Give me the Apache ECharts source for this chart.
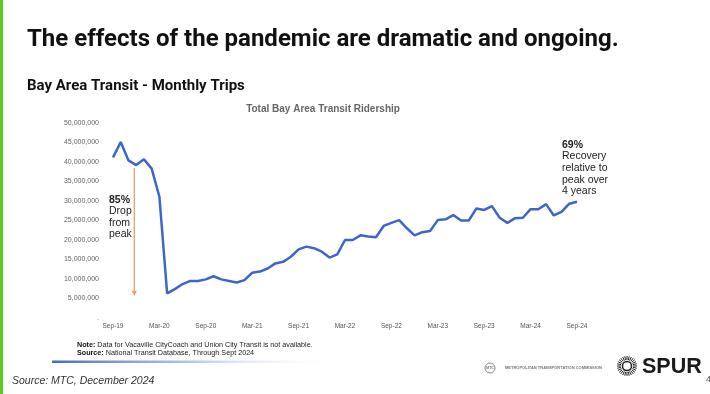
<!DOCTYPE html>
<html>
<head>
<meta charset="utf-8">
<script src="https://cdn.jsdelivr.net/npm/echarts@6/dist/echarts.min.js"></script>
<style>
html,body{margin:0;padding:0;background:#fff;}
#chart{width:710px;height:394px;}
</style>
</head>
<body>
<div id="chart"></div>
<script>
const months = [
  'Sep-19','Oct-19','Nov-19','Dec-19','Jan-20','Feb-20','Mar-20','Apr-20','May-20','Jun-20','Jul-20','Aug-20',
  'Sep-20','Oct-20','Nov-20','Dec-20','Jan-21','Feb-21','Mar-21','Apr-21','May-21','Jun-21','Jul-21','Aug-21',
  'Sep-21','Oct-21','Nov-21','Dec-21','Jan-22','Feb-22','Mar-22','Apr-22','May-22','Jun-22','Jul-22','Aug-22',
  'Sep-22','Oct-22','Nov-22','Dec-22','Jan-23','Feb-23','Mar-23','Apr-23','May-23','Jun-23','Jul-23','Aug-23',
  'Sep-23','Oct-23','Nov-23','Dec-23','Jan-24','Feb-24','Mar-24','Apr-24','May-24','Jun-24','Jul-24','Aug-24',
  'Sep-24'
];
const monthlyTrips = [
  41200000, 45100000, 40400000, 39200000, 40700000, 38300000, 31100000, 6300000, 7400000, 8700000, 9500000, 9500000,
  9900000, 10700000, 9900000, 9500000, 9100000, 9700000, 11600000, 11900000, 12700000, 14000000, 14400000, 15700000,
  17600000, 18300000, 17900000, 17000000, 15500000, 16300000, 20000000, 20000000, 21200000, 20900000, 20700000, 23600000,
  24400000, 25100000, 23000000, 21200000, 22000000, 22300000, 25100000, 25300000, 26400000, 25000000, 25000000, 28100000,
  27700000, 28700000, 25700000, 24400000, 25600000, 25700000, 27900000, 27900000, 29200000, 26300000, 27200000, 29300000,
  29800000
];
const yTicks = { min: 0, max: 50000000, step: 5000000 };
const headline = 'The effects of the pandemic are dramatic and ongoing.';
const subHeadline = 'Bay Area Transit - Monthly Trips';
const chartTitle = 'Total Bay Area Transit Ridership';
const dropNote = ['85%', 'Drop', 'from', 'peak'];
const recoveryNote = ['69%', 'Recovery', 'relative to', 'peak over', '4 years'];
const noteLines = [
  ['Note:', ' Data for Vacaville CityCoach and Union City Transit is not available.'],
  ['Source:', ' National Transit Database, Through Sept 2024']
];
const sourceLine = 'Source: MTC, December 2024';

const chart = echarts.init(document.getElementById('chart'), null, { renderer: 'canvas' });

function fmt(v) {
  if (v === 0) return '.';
  return String(v).replace(/\B(?=(\d{3})+(?!\d))/g, ',');
}

const graphics = [];
// green left bar
graphics.push({ type: 'rect', shape: { x: 0, y: 0, width: 3, height: 394 }, style: { fill: '#5ccf1c' }, silent: true });
// headline
graphics.push({ type: 'text', x: 27, y: 40, style: { text: headline, font: 'bold 24px Roboto', fill: '#111', textVerticalAlign: 'middle' } });
graphics.push({ type: 'text', x: 27, y: 86, style: { text: subHeadline, font: 'bold 15px Roboto', fill: '#111', textVerticalAlign: 'middle' } });
// chart title
graphics.push({ type: 'text', x: 323, y: 109, style: { text: chartTitle, font: 'bold 10px "Liberation Sans", Arial', fill: '#666', textAlign: 'center', textVerticalAlign: 'middle' } });
// drop arrow
graphics.push({ type: 'line', shape: { x1: 134.3, y1: 168, x2: 134.3, y2: 292 }, style: { stroke: '#f39a6e', lineWidth: 1.3 } });
graphics.push({ type: 'polygon', shape: { points: [[131.8, 291], [136.8, 291], [134.3, 296]] }, style: { fill: '#f39a6e' } });
dropNote.forEach((t, i) => {
  graphics.push({ type: 'text', x: 109, y: 200 + i * 11.5, style: { text: t, font: (i === 0 ? 'bold ' : '') + '10.5px "Liberation Sans", Arial', fill: '#222', textVerticalAlign: 'middle' } });
});
recoveryNote.forEach((t, i) => {
  graphics.push({ type: 'text', x: 562, y: 145 + i * 11.6, style: { text: t, font: (i === 0 ? 'bold ' : '') + '10.5px "Liberation Sans", Arial', fill: '#222', textVerticalAlign: 'middle' } });
});
// notes
noteLines.forEach((pair, i) => {
  graphics.push({ type: 'text', x: 77, y: 345 + i * 8.5, style: {
    text: '{b|' + pair[0] + '}{r|' + pair[1] + '}', textVerticalAlign: 'middle',
    rich: { b: { font: 'bold 7.2px "Liberation Sans", Arial', fill: '#111' }, r: { font: '7.2px "Liberation Sans", Arial', fill: '#222' } }
  } });
});
// gradient rule
graphics.push({ type: 'rect', shape: { x: 52, y: 360.5, width: 290, height: 2.5 }, style: {
  fill: new echarts.graphic.LinearGradient(0, 0, 1, 0, [
    { offset: 0, color: 'rgba(70,105,200,1)' },
    { offset: 0.45, color: 'rgba(120,150,215,0.6)' },
    { offset: 1, color: 'rgba(255,255,255,0)' }
  ]) } });
// source
graphics.push({ type: 'text', x: 12, y: 381, style: { text: sourceLine, font: 'italic 10.5px "Liberation Sans", Arial', fill: '#333', textVerticalAlign: 'middle' } });
// MTC logo
graphics.push({ type: 'circle', shape: { cx: 490, cy: 368, r: 5 }, style: { fill: 'none', stroke: '#888', lineWidth: 1 } });
graphics.push({ type: 'text', x: 490, y: 368, style: { text: 'MTC', font: 'bold 3.5px "Liberation Sans", Arial', fill: '#777', textAlign: 'center', textVerticalAlign: 'middle' } });
graphics.push({ type: 'text', x: 505, y: 368, style: { text: 'METROPOLITAN TRANSPORTATION COMMISSION', font: 'bold 4px "Liberation Sans", Arial', fill: '#777', textVerticalAlign: 'middle' } });
// SPUR sun
const sunC = [627, 366];
graphics.push({ type: 'circle', shape: { cx: sunC[0], cy: sunC[1], r: 4.5 }, style: { fill: '#fff', stroke: '#222', lineWidth: 1.5 } });
for (let k = 0; k < 28; k++) {
  const a = k / 28 * Math.PI * 2;
  graphics.push({ type: 'line', shape: { x1: sunC[0] + Math.cos(a) * 6, y1: sunC[1] + Math.sin(a) * 6, x2: sunC[0] + Math.cos(a) * 10, y2: sunC[1] + Math.sin(a) * 10 }, style: { stroke: '#222', lineWidth: 1 } });
}
graphics.push({ type: 'text', x: 642, y: 367, style: { text: 'SPUR', font: 'bold 21.5px "Liberation Sans", Arial', fill: '#1a1a1a', textVerticalAlign: 'middle' } });
graphics.push({ type: 'text', x: 706, y: 380, style: { text: '4', font: '9px "Liberation Sans", Arial', fill: '#555', textVerticalAlign: 'middle' } });

chart.setOption({
  animation: false,
  backgroundColor: '#fff',
  grid: { left: 113, right: 133, top: 123, bottom: 76, containLabel: false },
  xAxis: {
    type: 'category', data: months, boundaryGap: false,
    axisLine: { show: false }, axisTick: { show: false }, splitLine: { show: false },
    axisLabel: { interval: 5, fontSize: 6.5, color: '#555', margin: 5, fontFamily: '"Liberation Sans", Arial' }
  },
  yAxis: {
    type: 'value', min: yTicks.min, max: yTicks.max, interval: yTicks.step,
    axisLine: { show: false }, axisTick: { show: false }, splitLine: { show: false },
    axisLabel: { fontSize: 7, color: '#666', margin: 14, formatter: fmt, fontFamily: '"Liberation Sans", Arial' }
  },
  series: [{
    type: 'line', data: monthlyTrips, symbol: 'none', smooth: false,
    lineStyle: { color: '#3e66c9', width: 2.5 }
  }],
  graphic: graphics
});
</script>
</body>
</html>
